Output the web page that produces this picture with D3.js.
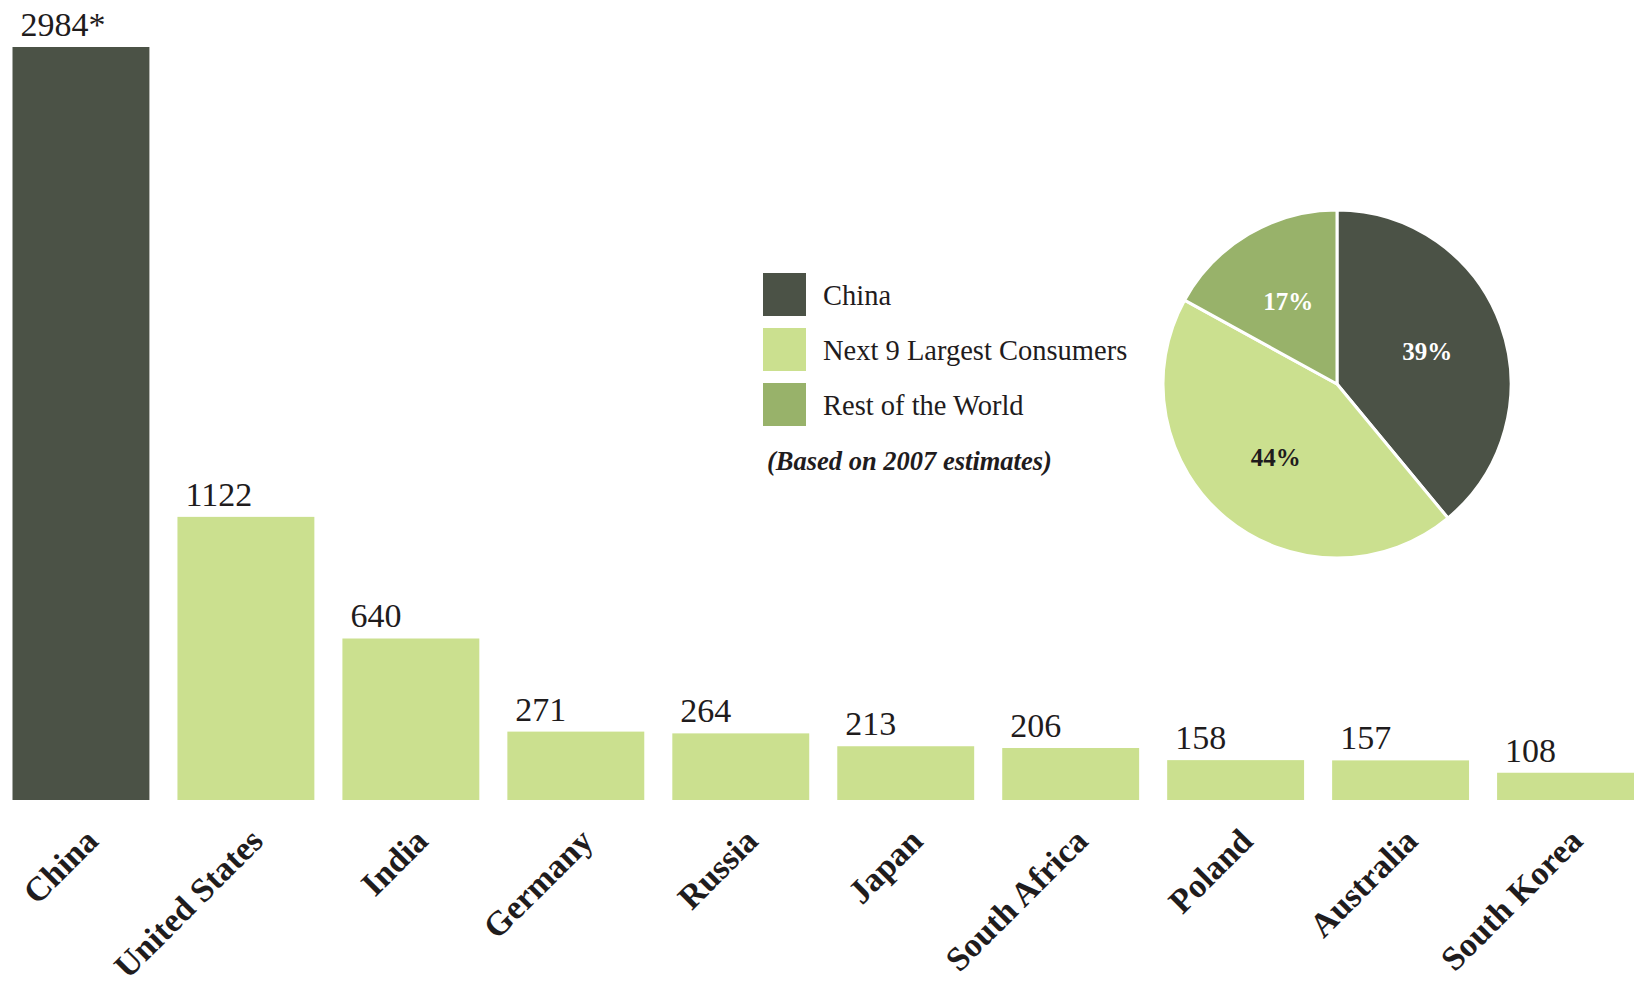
<!DOCTYPE html>
<html lang="en">
<head>
  <meta charset="utf-8">
  <title>Coal consumption</title>
  <script src="https://d3js.org/d3.v7.min.js"></script>
  <style>
    body { margin: 0; background: #fff; }
    svg text { font-family: "Liberation Serif", "DejaVu Serif", serif; fill: #1f1c1d; }
  </style>
</head>
<body>
  <div id="chart"></div>

  <script>
    "use strict"

    // bar data
    var countries = ["China", "United States", "India", "Germany", "Russia", "Japan",
                     "South Africa", "Poland", "Australia", "South Korea"];
    var values = [2984, 1122, 640, 271, 264, 213, 206, 158, 157, 108];
    var valueLabels = ["2984*", "1122", "640", "271", "264", "213", "206", "158", "157", "108"];

    // pie data
    var groups = ["China", "Next 9 Largest Consumers", "Rest of the World"];
    var shares = [39, 44, 17];
    var note = "(Based on 2007 estimates)";

    var colors = ["#4b5246", "#cbe08f", "#98b26a"];
    var pieTextColors = ["#ffffff", "#1f1c1d", "#ffffff"];

    var W = 1636, H = 987;
    var svg = d3.select('#chart').append('svg')
      .attr('width', W)
      .attr('height', H);

    // scales
    var x = d3.scaleBand()
      .domain(countries)
      .range([12.5, 1634])
      .paddingInner(0.17)
      .paddingOuter(0);

    var y = d3.scaleLinear()
      .domain([0, d3.max(values)])
      .range([800, 47]);

    var rows = countries.map((c, i) => ({ name: c, value: values[i], label: valueLabels[i] }));

    svg.selectAll('rect.bar')
      .data(rows)
      .enter()
      .append('rect')
        .attr('class', 'bar')
        .attr('x', d => x(d.name))
        .attr('width', x.bandwidth())
        .attr('y', d => y(d.value))
        .attr('height', d => y(0) - y(d.value))
        .attr('fill', (d, i) => i === 0 ? colors[0] : colors[1]);

    // value labels above bars
    svg.selectAll('text.val')
      .data(rows)
      .enter()
      .append('text')
        .attr('class', 'val')
        .attr('x', d => x(d.name) + 8)
        .attr('y', d => y(d.value) - 11)
        .style('font-size', '34px')
        .text(d => d.label);

    // rotated category labels
    svg.selectAll('text.cat')
      .data(rows)
      .enter()
      .append('text')
        .attr('class', 'cat')
        .attr('text-anchor', 'end')
        .attr('transform', d => 'translate(' + (x(d.name) + x.bandwidth() / 2 + 19) + ',843) rotate(-45)')
        .style('font-size', '34px')
        .style('font-weight', 'bold')
        .text(d => d.name);

    // legend
    var legend = svg.append('g').attr('transform', 'translate(763,273)');
    var item = legend.selectAll('g')
      .data(groups)
      .enter()
      .append('g')
        .attr('transform', (d, i) => 'translate(0,' + (i * 55) + ')');
    item.append('rect')
      .attr('width', 43)
      .attr('height', 43)
      .attr('fill', (d, i) => colors[i]);
    item.append('text')
      .attr('x', 60)
      .attr('y', 32)
      .style('font-size', '28.5px')
      .text(d => d);

    legend.append('text')
      .attr('x', 4)
      .attr('y', 197)
      .style('font-size', '26.5px')
      .style('font-weight', 'bold')
      .style('font-style', 'italic')
      .text(note);

    // pie
    var radius = 174;
    var pie = d3.pie().sort(null).value(d => d);
    var arc = d3.arc().innerRadius(0).outerRadius(radius);
    var labelArc = d3.arc().innerRadius(96).outerRadius(96);

    var pieG = svg.append('g').attr('transform', 'translate(1337,384)');
    var slices = pieG.selectAll('g')
      .data(pie(shares))
      .enter()
      .append('g');
    slices.append('path')
      .attr('d', arc)
      .attr('fill', (d, i) => colors[i])
      .attr('stroke', '#fff')
      .attr('stroke-width', 3);
    slices.append('text')
      .attr('transform', d => 'translate(' + labelArc.centroid(d) + ')')
      .attr('text-anchor', 'middle')
      .attr('dominant-baseline', 'central')
      .style('font-size', '25px')
      .style('font-weight', 'bold')
      .style('fill', (d, i) => pieTextColors[i])
      .text(d => d.data + '%');
  </script>
</body>
</html>
